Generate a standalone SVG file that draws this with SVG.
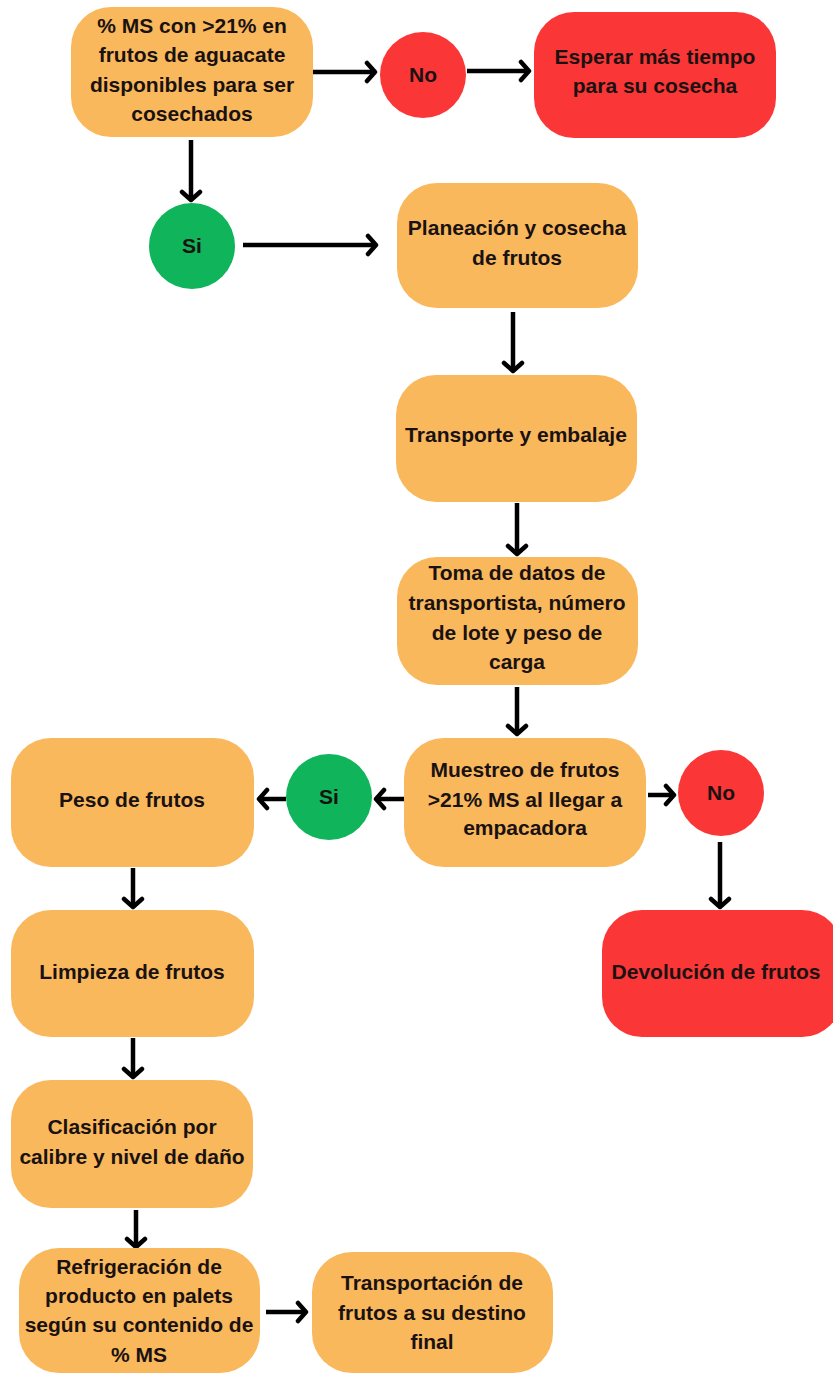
<svg xmlns="http://www.w3.org/2000/svg" width="833" height="1374" viewBox="0 0 833 1374">
<defs>
<style>
.o{fill:#F9B85C}
.r{fill:#FB3636}
.g{fill:#10B45A}
.t{font-family:"Liberation Sans",Arial,sans-serif;font-weight:bold;font-size:21px;fill:#1A1212;text-anchor:middle}
.c{stroke:#000;stroke-width:4.5;fill:none;marker-end:url(#ah)}
</style>
<marker id="ah" markerUnits="userSpaceOnUse" markerWidth="20" markerHeight="24" refX="12" refY="12" orient="auto">
<path d="M4,3 L12,12 L4,21" fill="none" stroke="#000" stroke-width="4.5" stroke-linecap="round" stroke-linejoin="round"/>
</marker>
</defs>
<rect width="833" height="1374" fill="#fff"/>
<g id="connectors">
<line class="c" x1="313" y1="72" x2="375" y2="72"/>
<line class="c" x1="467" y1="71" x2="529" y2="71"/>
<line class="c" x1="191" y1="140" x2="191" y2="200"/>
<line class="c" x1="243" y1="245" x2="376" y2="245"/>
<line class="c" x1="513" y1="312" x2="513" y2="371"/>
<line class="c" x1="517" y1="503" x2="517" y2="554"/>
<line class="c" x1="517" y1="687" x2="517" y2="734"/>
<line class="c" x1="404" y1="799" x2="376" y2="799"/>
<line class="c" x1="286" y1="799" x2="259" y2="799"/>
<line class="c" x1="648" y1="795" x2="674" y2="795"/>
<line class="c" x1="720" y1="842" x2="720" y2="907"/>
<line class="c" x1="133" y1="868" x2="133" y2="907"/>
<line class="c" x1="133" y1="1038" x2="133" y2="1077"/>
<line class="c" x1="136" y1="1210" x2="136" y2="1247"/>
<line class="c" x1="266" y1="1312" x2="306" y2="1312"/>
</g>
<g id="n1"><rect class="o" x="71" y="7" width="242" height="130" rx="40"/>
<text class="t" x="192" y="33">% MS con &gt;21% en</text>
<text class="t" x="192" y="62">frutos de aguacate</text>
<text class="t" x="192" y="92">disponibles para ser</text>
<text class="t" x="192" y="121">cosechados</text></g>
<g id="no1"><circle class="r" cx="423" cy="75" r="43"/><text class="t" x="423" y="82">No</text></g>
<g id="esperar"><rect class="r" x="534" y="12" width="242" height="126" rx="40"/>
<text class="t" x="655" y="64">Esperar más tiempo</text>
<text class="t" x="655" y="93">para su cosecha</text></g>
<g id="si1"><circle class="g" cx="192" cy="246" r="43"/><text class="t" x="192" y="253">Si</text></g>
<g id="planeacion"><rect class="o" x="397" y="183" width="241" height="125" rx="40"/>
<text class="t" x="517" y="235">Planeación y cosecha</text>
<text class="t" x="517" y="265">de frutos</text></g>
<g id="transporte"><rect class="o" x="396" y="375" width="241" height="127" rx="40"/>
<text class="t" x="516" y="442">Transporte y embalaje</text></g>
<g id="toma"><rect class="o" x="397" y="557" width="241" height="128" rx="40"/>
<text class="t" x="517" y="580">Toma de datos de</text>
<text class="t" x="517" y="610">transportista, número</text>
<text class="t" x="517" y="640">de lote y peso de</text>
<text class="t" x="517" y="669">carga</text></g>
<g id="muestreo"><rect class="o" x="404" y="738" width="242" height="129" rx="40"/>
<text class="t" x="525" y="777">Muestreo de frutos</text>
<text class="t" x="525" y="807">&gt;21% MS al llegar a</text>
<text class="t" x="525" y="835">empacadora</text></g>
<g id="si2"><circle class="g" cx="329" cy="797" r="43"/><text class="t" x="329" y="804">Si</text></g>
<g id="no2"><circle class="r" cx="721" cy="793" r="43"/><text class="t" x="721" y="800">No</text></g>
<g id="peso"><rect class="o" x="11" y="738" width="243" height="129" rx="40"/>
<text class="t" x="132" y="807">Peso de frutos</text></g>
<g id="devolucion"><rect class="r" x="602" y="910" width="240" height="127" rx="40"/>
<text class="t" x="716" y="979">Devolución de frutos</text></g>
<g id="limpieza"><rect class="o" x="11" y="910" width="243" height="127" rx="40"/>
<text class="t" x="132" y="979">Limpieza de frutos</text></g>
<g id="clasificacion"><rect class="o" x="11" y="1080" width="242" height="128" rx="40"/>
<text class="t" x="132" y="1134">Clasificación por</text>
<text class="t" x="132" y="1164">calibre y nivel de daño</text></g>
<g id="refrigeracion"><rect class="o" x="19" y="1248" width="241" height="125" rx="40"/>
<text class="t" x="139" y="1274">Refrigeración de</text>
<text class="t" x="139" y="1303">producto en palets</text>
<text class="t" x="139" y="1332">según su contenido de</text>
<text class="t" x="139" y="1362">% MS</text></g>
<g id="transportacion"><rect class="o" x="312" y="1252" width="241" height="121" rx="40"/>
<text class="t" x="432" y="1290">Transportación de</text>
<text class="t" x="432" y="1320">frutos a su destino</text>
<text class="t" x="432" y="1349">final</text></g>
</svg>
